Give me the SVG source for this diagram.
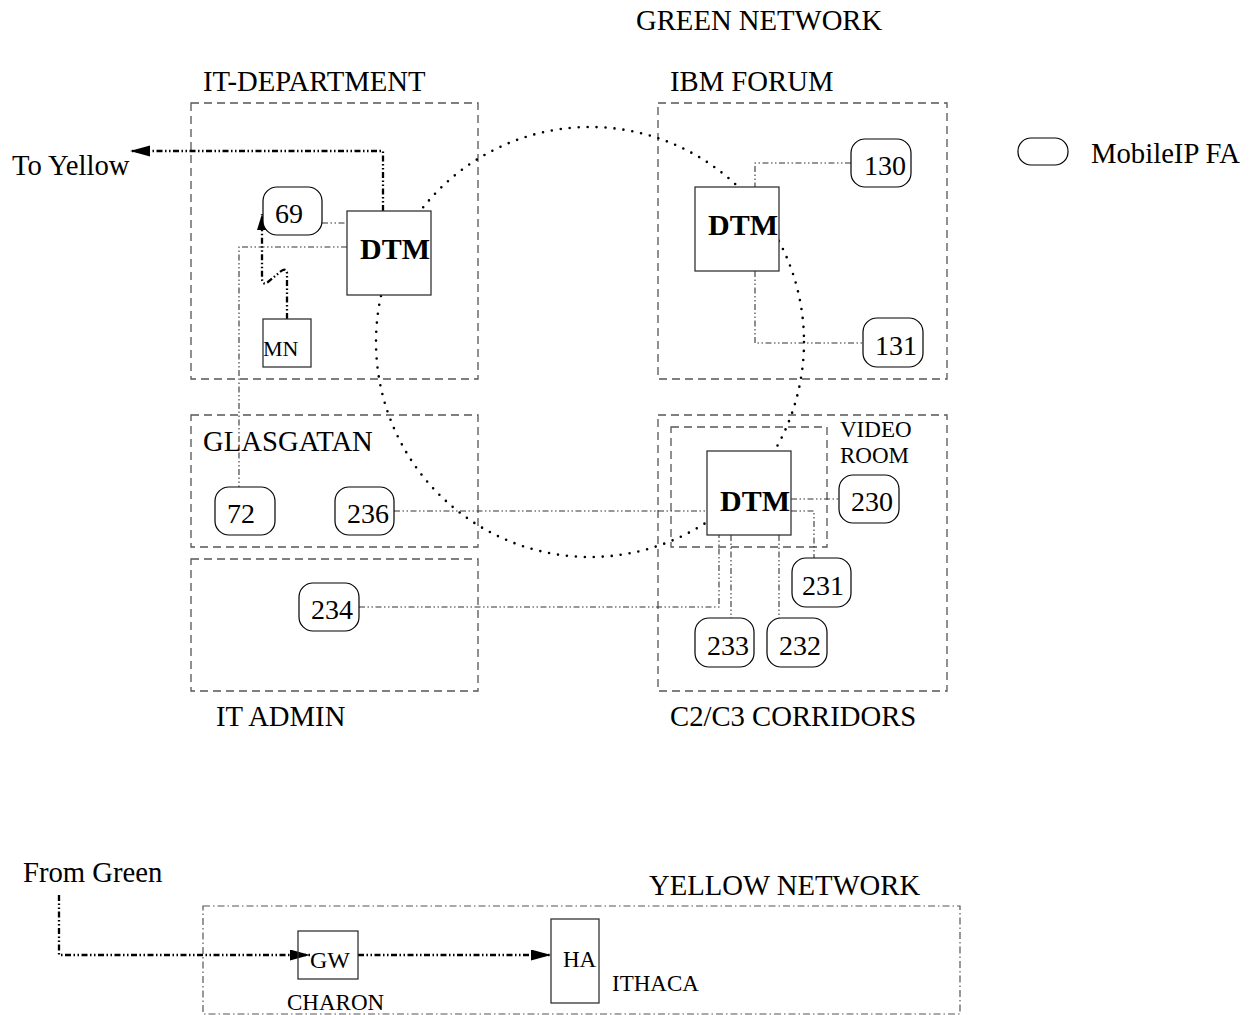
<svg xmlns="http://www.w3.org/2000/svg" width="1253" height="1015" viewBox="0 0 1253 1015">
<style>
text{font-family:"Liberation Serif","Times New Roman",serif;fill:#000}
.lbl{font-size:28.7px}
.num{font-size:28px;text-anchor:middle}
.dtm{font-size:30px;font-weight:bold}
.region{fill:none;stroke:#555;stroke-width:1.3;stroke-dasharray:8,5}
.ybox{fill:none;stroke:#555;stroke-width:1.2;stroke-dasharray:7,3,1.5,3}
.fa{fill:#fff;stroke:#000;stroke-width:1.2}
.box{fill:#fff;stroke:#333;stroke-width:1.3}
.thin{fill:none;stroke:#333;stroke-width:1.1;stroke-dasharray:6,2.5,1.5,2.5,1.5,2.5}
.thick{fill:none;stroke:#000;stroke-width:2.3;stroke-dasharray:6,2.5,1.5,2.5,1.5,2.5}
.ring{fill:none;stroke:#000;stroke-width:2.6;stroke-linecap:round;stroke-dasharray:0,9}
</style>
<defs>
<marker id="ah" markerUnits="userSpaceOnUse" markerWidth="22" markerHeight="12" refX="20" refY="5.5" orient="auto">
<path d="M0,0 L20,5.5 L0,11 Z" fill="#000"/>
</marker>
<marker id="ahs" markerUnits="userSpaceOnUse" markerWidth="18" markerHeight="12" refX="16" refY="5" orient="auto">
<path d="M0,0 L16,5 L0,10 Z" fill="#000"/>
</marker>
</defs>

<text class="lbl" x="636" y="30">GREEN NETWORK</text>

<g id="it-department">
<rect class="region" x="191" y="103" width="287" height="276"/>
<text class="lbl" x="203" y="91">IT-DEPARTMENT</text>
</g>
<g id="ibm-forum">
<rect class="region" x="658" y="103" width="289" height="276"/>
<text class="lbl" x="670" y="91">IBM FORUM</text>
</g>
<g id="glasgatan">
<rect class="region" x="191" y="415" width="287" height="132"/>
<text class="lbl" x="203" y="451">GLASGATAN</text>
</g>
<g id="it-admin">
<rect class="region" x="191" y="559" width="287" height="132"/>
<text class="lbl" x="216" y="726">IT ADMIN</text>
</g>
<g id="c2c3-corridors">
<rect class="region" x="658" y="415" width="289" height="276"/>
<text class="lbl" x="670" y="726">C2/C3 CORRIDORS</text>
</g>
<g id="video-room">
<rect class="region" x="671" y="427" width="156" height="120"/>
<text x="840" y="437" style="font-size:23px">VIDEO</text>
<text x="840" y="463" style="font-size:23px">ROOM</text>
</g>

<ellipse id="dtm-ring" class="ring" cx="590" cy="342" rx="214" ry="215"/>

<g id="connectors">
<path class="thick" d="M383,211 L383,151 L130,151" marker-end="url(#ah)"/>
<path class="thick" d="M287,319 L287,273 Q286,267 280,272 L268,282 Q262,286 262,278 L262,214" marker-end="url(#ahs)"/>
<path class="thin" d="M322,223 L347,223"/>
<path class="thin" d="M347,247 L239,247 L239,487"/>
<path class="thin" d="M851,163 L755,163 L755,187"/>
<path class="thin" d="M755,271 L755,343 L863,343"/>
<path class="thin" d="M394,511 L707,511"/>
<path class="thin" d="M359,607 L719,607 L719,535"/>
<path class="thin" d="M791,499 L839,499"/>
<path class="thin" d="M791,511 L814,511 L814,558"/>
<path class="thin" d="M731,535 L731,618"/>
<path class="thin" d="M779,535 L779,618"/>
<path class="thick" d="M59,895 L59,955 L310,955" marker-end="url(#ah)"/>
<path class="thick" d="M358,955 L551,955" marker-end="url(#ah)"/>
</g>

<g id="dtm-it"><rect class="box" x="347" y="211" width="84" height="84"/><text class="dtm" x="360" y="259">DTM</text></g>
<g id="dtm-ibm"><rect class="box" x="695" y="187" width="84" height="84"/><text class="dtm" x="708" y="235">DTM</text></g>
<g id="dtm-c2"><rect class="box" x="707" y="451" width="84" height="84"/><text class="dtm" x="720" y="511">DTM</text></g>
<g id="mn"><rect class="box" x="263" y="319" width="48" height="48" style="fill:none"/><text x="263" y="356" style="font-size:22px">MN</text></g>

<g id="fa-69"><rect class="fa" x="263" y="187" width="59" height="48" rx="14"/><text class="num" x="289" y="223">69</text></g>
<g id="fa-130"><rect class="fa" x="851" y="139" width="60" height="48" rx="14"/><text class="num" x="885" y="175">130</text></g>
<g id="fa-131"><rect class="fa" x="863" y="318" width="60" height="49" rx="14"/><text class="num" x="896" y="355">131</text></g>
<g id="fa-72"><rect class="fa" x="215" y="487" width="60" height="48" rx="14"/><text class="num" x="241" y="523">72</text></g>
<g id="fa-236"><rect class="fa" x="335" y="487" width="59" height="48" rx="14"/><text class="num" x="368" y="523">236</text></g>
<g id="fa-234"><rect class="fa" x="299" y="583" width="60" height="48" rx="14"/><text class="num" x="332" y="619">234</text></g>
<g id="fa-230"><rect class="fa" x="839" y="475" width="60" height="48" rx="14"/><text class="num" x="872" y="511">230</text></g>
<g id="fa-231"><rect class="fa" x="792" y="558" width="59" height="49" rx="14"/><text class="num" x="823" y="595">231</text></g>
<g id="fa-233"><rect class="fa" x="695" y="618" width="59" height="49" rx="14"/><text class="num" x="728" y="655">233</text></g>
<g id="fa-232"><rect class="fa" x="767" y="618" width="60" height="49" rx="14"/><text class="num" x="800" y="655">232</text></g>

<g id="legend">
<rect class="fa" x="1018" y="138" width="50" height="27" rx="13"/>
<text class="lbl" x="1091" y="163">MobileIP FA</text>
</g>

<text class="lbl" x="12" y="175">To Yellow</text>
<text class="lbl" x="23" y="882">From Green</text>

<g id="yellow-network">
<rect class="ybox" x="203" y="906" width="757" height="108"/>
<text class="lbl" x="649" y="895">YELLOW NETWORK</text>
</g>
<g id="gw"><rect class="box" x="298" y="931" width="60" height="48" style="fill:none"/><text x="310" y="968" style="font-size:24px">GW</text></g>
<text x="287" y="1010" style="font-size:23px">CHARON</text>
<g id="ha"><rect class="box" x="551" y="919" width="48" height="84"/><text x="563" y="967" style="font-size:23px">HA</text></g>
<text x="612" y="991" style="font-size:23px">ITHACA</text>
</svg>
